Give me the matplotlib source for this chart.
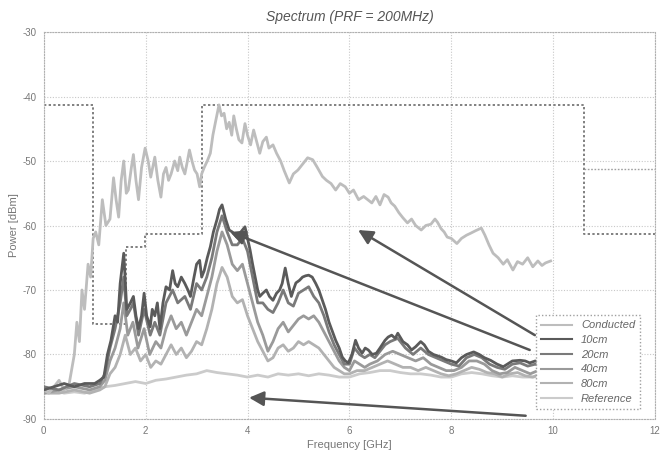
import matplotlib
matplotlib.use("Agg")
import matplotlib.pyplot as plt

plt.rcParams["font.family"] = ["Liberation Sans", "DejaVu Sans"]
plt.rcParams["axes.unicode_minus"] = False

# %%
# FCC mask (outdoor) + indoor segment above 10.6 GHz
mask_f = [0, 0.96, 1.61, 1.99, 3.1, 10.6, 12]
mask_p = [-41.3, -75.3, -63.3, -61.3, -41.3, -61.3, -61.3]
mask_hi_f = [10.6, 12]
mask_hi_p = [-51.3, -51.3]

conducted_f = [
    0.0, 0.1, 0.2, 0.3, 0.4, 0.5, 0.6, 0.65, 0.7, 0.75, 0.8, 0.87, 0.92, 0.97,
    1.02, 1.08, 1.15, 1.22, 1.3, 1.37, 1.42, 1.47, 1.52, 1.57, 1.62, 1.66, 1.72,
    1.76, 1.81, 1.86, 1.92, 1.99, 2.05, 2.1, 2.18, 2.24, 2.3, 2.35, 2.4, 2.45,
    2.5, 2.57, 2.63, 2.67, 2.72, 2.77, 2.82, 2.86, 2.91, 2.96, 3.01, 3.06, 3.1,
    3.15, 3.21, 3.27, 3.32, 3.37, 3.44, 3.49, 3.54, 3.59, 3.64, 3.69, 3.73, 3.78,
    3.83, 3.89, 3.95, 4.0, 4.06, 4.12, 4.18, 4.24, 4.3, 4.37, 4.42, 4.5, 4.57,
    4.65, 4.72, 4.82, 4.9, 4.99, 5.08, 5.18, 5.28, 5.37, 5.47, 5.55, 5.64, 5.73,
    5.82, 5.92, 6.0, 6.08, 6.18, 6.28, 6.36, 6.44, 6.52, 6.6, 6.68, 6.76, 6.82,
    6.89, 6.97, 7.05, 7.14, 7.22, 7.3, 7.41, 7.5, 7.6, 7.68, 7.73, 7.8, 7.86,
    7.92, 8.0, 8.11, 8.2, 8.3, 8.38, 8.48, 8.59, 8.66, 8.74, 8.82, 8.92, 9.02,
    9.1, 9.21, 9.3, 9.4, 9.5, 9.6, 9.7, 9.78, 9.85, 9.95,
]
conducted_p = [
    -85.5, -86, -85, -84, -85.5, -84.5, -80, -75, -78, -70, -73, -66, -68, -62,
    -61, -63, -56, -60, -59, -52.6, -56, -58.7, -53, -50, -55, -54.5, -51,
    -49, -53, -56, -51, -48, -50, -52.5, -49.4, -53, -55.6, -52, -51, -53,
    -52, -50, -51.5, -49.4, -51, -52, -50, -48.3, -50, -51.4, -52, -54, -52,
    -51, -50, -48.8, -46, -44, -41.3, -43, -42.6, -45, -44, -46, -43, -45,
    -46.7, -47.2, -44.2, -46, -47.5, -45.2, -47, -48.8, -47, -46.3, -48, -47.5, -48.8,
    -50, -51.5, -53.4, -52, -51.4, -50.5, -49.5, -49.8, -51, -52.4, -53, -53.5, -54.5,
    -53.5, -54, -55, -54.5, -56, -55.5, -56, -56.5, -55.5, -56.8, -55.2, -55.6, -56.5,
    -57, -58, -58.8, -59.6, -59, -60, -60.7, -60, -59.8, -59, -59.5, -60.5, -61,
    -61.8, -62, -62.8, -62, -61.5, -61.2, -60.8, -60.4, -61.5, -63, -64.3, -65, -66,
    -65.3, -66.9, -65.6, -66, -65, -66.4, -65.5, -66.2, -65.8, -65.5,
]

cm10_f = [
    0.0, 0.2, 0.4, 0.6, 0.8, 1.0, 1.1, 1.18, 1.25, 1.32, 1.4, 1.45, 1.5, 1.57,
    1.63, 1.7, 1.76, 1.81, 1.86, 1.92, 1.97, 2.02, 2.09, 2.13, 2.18, 2.23, 2.28,
    2.34, 2.4, 2.47, 2.53, 2.58, 2.63, 2.7, 2.77, 2.83, 2.88, 2.95, 3.0, 3.06,
    3.1, 3.15, 3.21, 3.27, 3.33, 3.4, 3.45, 3.5, 3.57, 3.64, 3.7, 3.79, 3.87,
    3.95, 4.0, 4.05, 4.1, 4.15, 4.2, 4.24, 4.3, 4.37, 4.43, 4.5, 4.57, 4.63,
    4.68, 4.74, 4.8, 4.86, 4.9, 4.95, 5.02, 5.08, 5.14, 5.2, 5.27, 5.34, 5.4,
    5.47, 5.53, 5.6, 5.67, 5.73, 5.8, 5.86, 5.92, 5.98, 6.05, 6.12, 6.18, 6.25,
    6.31, 6.37, 6.45, 6.53, 6.6, 6.7, 6.76, 6.83, 6.9, 6.95, 7.05, 7.14, 7.22,
    7.3, 7.4, 7.47, 7.55, 7.65, 7.8, 7.9, 8.0, 8.1, 8.2, 8.3, 8.44, 8.55, 8.65,
    8.77, 8.9, 9.02, 9.1, 9.2, 9.35, 9.45, 9.54, 9.65, 9.8, 10.0,
]
cm10_p = [
    -85.5, -85, -84.5, -85, -84.5, -84.5, -84, -83.5, -80, -77.8, -74, -75, -69, -64.3,
    -73, -72, -71, -74, -76, -74, -70.5, -74, -75.7, -73, -74, -72, -76,
    -72, -69.5, -70, -67, -69, -69.5, -68, -69, -70, -71, -68, -66, -65.4,
    -68, -67, -65, -63.3, -61, -59.1, -57.5, -56.8, -59, -60.7, -61, -61.8, -61,
    -60.2, -62, -63.8, -66, -68, -70, -71, -70.5, -70, -71, -71.6, -70.5, -70,
    -69, -66.6, -69, -71, -70, -68.9, -68.5, -68, -67.8, -67.7, -68, -69, -70,
    -71.6, -73, -75, -76.5, -77.8, -79, -80.4, -81, -81.3, -80, -77.8, -79, -79.8,
    -79, -79.3, -80, -79.8, -79, -77.8, -77.3, -77, -77.5, -76.7, -78, -78.5, -79.3,
    -78.8, -78, -78.5, -79.5, -80, -80.4, -80.8, -81, -81.3, -80.5, -80, -79.6, -80, -80.5,
    -80.9, -81.5, -81.9, -81.5, -81, -80.9, -81, -81.3, -81, -81.5, -81,
]

cm20_f = [
    0.0, 0.3, 0.6, 0.9, 1.1, 1.2, 1.3, 1.4, 1.5, 1.57, 1.63, 1.7, 1.76, 1.86,
    1.97, 2.09, 2.18, 2.28, 2.4, 2.53, 2.63, 2.77, 2.88, 3.0, 3.1, 3.2, 3.3,
    3.4, 3.5, 3.6, 3.7, 3.8, 3.9, 4.0, 4.1, 4.2, 4.3, 4.4, 4.5, 4.6, 4.7,
    4.8, 4.9, 5.0, 5.1, 5.2, 5.3, 5.4, 5.5, 5.6, 5.7, 5.8, 5.9, 6.0, 6.1,
    6.2, 6.3, 6.4, 6.5, 6.6, 6.7, 6.8, 6.95, 7.1, 7.25, 7.4, 7.55, 7.7, 7.85,
    8.0, 8.15, 8.3, 8.45, 8.6, 8.75, 8.9, 9.05, 9.2, 9.35, 9.5, 9.65, 9.8, 10.0,
]
cm20_p = [
    -85, -85.5, -84.5, -85, -84.5, -83, -79, -76, -72, -68, -74, -73, -72, -77,
    -73, -77, -75, -77, -72, -70, -72, -71, -73, -69, -70, -68, -65,
    -61, -58.5, -61, -63, -63, -62, -64, -68, -72, -72, -73, -73.5, -72, -70,
    -72, -72.5, -70.5, -70, -69.5, -71, -72, -74, -76.5, -78.5, -80, -81.5, -81.5, -79,
    -80, -80.5, -80, -80.5, -79.5, -78.5, -78, -77.5, -79, -80, -79, -80, -80.5, -81,
    -81.5, -81.8, -80.5, -80, -80.5, -81.5, -82, -82.3, -81.5, -81.3, -81.8, -81.5, -82, -81.5,
]

cm40_f = [
    0.0, 0.3, 0.6, 0.9, 1.1, 1.2, 1.3, 1.4, 1.5, 1.57, 1.65, 1.75, 1.85, 1.97,
    2.08, 2.2, 2.3, 2.4, 2.5, 2.6, 2.7, 2.8, 2.9, 3.0, 3.1, 3.2, 3.3,
    3.4, 3.5, 3.6, 3.7, 3.8, 3.9, 4.0, 4.1, 4.2, 4.3, 4.4, 4.5, 4.6, 4.7,
    4.8, 4.9, 5.0, 5.1, 5.2, 5.3, 5.4, 5.5, 5.6, 5.7, 5.8, 5.9, 6.0, 6.1,
    6.2, 6.3, 6.4, 6.55, 6.7, 6.85, 7.0, 7.15, 7.3, 7.45, 7.6, 7.75, 7.9, 8.05,
    8.2, 8.35, 8.5, 8.65, 8.8, 8.95, 9.1, 9.25, 9.4, 9.55, 9.7, 9.85, 10.0,
]
cm40_p = [
    -86, -85.5, -85, -85.5, -85, -84, -81, -79, -76, -72, -77, -75, -79, -76,
    -80, -78, -79, -76, -74, -76, -75, -77, -75, -73, -74, -71, -68,
    -64, -61, -63, -66, -67, -66, -69, -72, -75, -77, -79.5, -78, -76, -75,
    -76.5, -75.5, -74.5, -74, -74.5, -74, -75, -76.5, -78, -79.5, -81, -82, -82.5, -81,
    -81.5, -82, -81.5, -81, -80, -79.5, -80, -80.5, -81, -80.5, -81.5, -82, -82.5, -82.5,
    -82, -81, -81, -81.5, -82.5, -83, -82.8, -82, -82.5, -83, -82.5, -83, -82.5,
]

cm80_f = [
    0.0, 0.3, 0.6, 0.9, 1.1, 1.2, 1.3, 1.4, 1.5, 1.6, 1.7, 1.8, 1.9, 2.0,
    2.1, 2.2, 2.3, 2.4, 2.5, 2.6, 2.7, 2.8, 2.9, 3.0, 3.1, 3.2, 3.3,
    3.4, 3.5, 3.6, 3.7, 3.8, 3.9, 4.0, 4.1, 4.2, 4.3, 4.4, 4.5, 4.6, 4.7,
    4.8, 4.9, 5.0, 5.1, 5.2, 5.3, 5.4, 5.5, 5.6, 5.7, 5.8, 5.9, 6.0, 6.15,
    6.3, 6.45, 6.6, 6.75, 6.9, 7.05, 7.2, 7.35, 7.5, 7.65, 7.8, 7.95, 8.1, 8.25,
    8.4, 8.55, 8.7, 8.85, 9.0, 9.15, 9.3, 9.45, 9.6, 9.75, 9.9, 10.0,
]
cm80_p = [
    -86, -86, -85.5, -86, -85.5, -85, -83, -82, -80, -77, -80, -79, -81, -80,
    -82, -81, -81.5, -80, -78.5, -80, -79, -80.5, -79.5, -78, -78.5, -76, -73,
    -69, -66.5, -68, -71, -72, -71.5, -74, -76, -78, -79.5, -81, -80.5, -79, -78.5,
    -79.5, -79, -78, -78.5, -78, -78.5, -79, -80, -81, -82, -82.5, -83, -83, -82.5,
    -82.5, -82, -81.5, -81, -81.5, -82, -82, -82.5, -82, -82.5, -83, -83.3, -83, -82.5,
    -82, -82.3, -82.8, -83, -83.5, -83, -82.8, -83.3, -83.5, -83, -83.3, -83,
]

ref_f = [
    0.0, 0.2, 0.4, 0.6, 0.8, 1.0, 1.2, 1.4, 1.6, 1.8, 2.0, 2.2, 2.4, 2.6,
    2.8, 3.0, 3.2, 3.4, 3.6, 3.8, 4.0, 4.2, 4.4, 4.6, 4.8, 5.0, 5.2,
    5.4, 5.6, 5.8, 6.0, 6.2, 6.4, 6.6, 6.8, 7.0, 7.2, 7.4, 7.6, 7.8, 8.0,
    8.2, 8.4, 8.6, 8.8, 9.0, 9.2, 9.4, 9.6, 9.8, 10.0,
]
ref_p = [
    -86, -85.5, -86, -85.8, -86, -85.5, -85, -84.8, -84.5, -84.2, -84.5, -84, -83.8, -83.5,
    -83.2, -83, -82.5, -82.8, -83, -83.2, -83.5, -83.2, -83.5, -83, -83.2, -83, -83.3,
    -83, -83.2, -83.5, -83.5, -83, -82.8, -82.5, -82.5, -82.8, -83, -83, -83.2, -83.5, -83.5,
    -83, -82.8, -83, -83.3, -83.5, -83.3, -83.5, -83.5, -83.3, -83.5,
]

# %%
fig = plt.figure(figsize=(6.63, 4.51), dpi=100)
ax = fig.add_axes([0.066, 0.071, 0.922, 0.858])

txt = "#777777"
ax.step(mask_f, mask_p, where="post", color="#808080", lw=1.4,
        ls=(0, (1.2, 1.2)), zorder=2)
ax.plot(mask_hi_f, mask_hi_p, color="#a0a0a0", lw=1.0, ls=(0, (1.2, 1.2)), zorder=2)

series = [
    ("Conducted", conducted_f, conducted_p, "#bdbdbd", 6),
    ("10cm", cm10_f, cm10_p, "#5a5a5a", 8),
    ("20cm", cm20_f, cm20_p, "#7a7a7a", 7),
    ("40cm", cm40_f, cm40_p, "#9a9a9a", 5),
    ("80cm", cm80_f, cm80_p, "#b2b2b2", 4),
    ("Reference", ref_f, ref_p, "#cbcbcb", 3),
]
for name, f, p, c, z in series:
    ax.plot(f, p, color=c, lw=2.0, label=name, zorder=z)

# arrows pointing from the legend to the traces
arrows = [((9.64, -77.0), (6.17, -60.7)),
          ((9.54, -79.3), (3.66, -61.0)),
          ((9.46, -89.5), (4.03, -86.7))]
for tail, tip in arrows:
    ax.annotate("", xy=tip, xytext=tail,
                arrowprops=dict(arrowstyle="-|>", color="#555555", lw=1.8,
                                mutation_scale=22, shrinkA=0, shrinkB=0),
                zorder=10)

ax.set_xlim(0, 12)
ax.set_ylim(-90, -30)
ax.set_xticks(range(0, 13, 2))
ax.set_yticks(range(-90, -29, 10))
ax.grid(True, color="#c8c8c8", ls=(0, (1, 1.5)), lw=0.8)
ax.tick_params(length=0, labelsize=7, labelcolor=txt, pad=5)
for s in ax.spines.values():
    s.set_color("#b0b0b0")
    s.set_linestyle((0, (1, 1.5)))
    s.set_linewidth(0.8)

ax.set_title("Spectrum (PRF = 200MHz)", fontsize=10, style="italic",
             color="#555555", pad=8)
ax.set_xlabel("Frequency [GHz]", fontsize=8, color=txt, labelpad=3)
ax.set_ylabel("Power [dBm]", fontsize=8, color=txt, labelpad=3)

leg = ax.legend(loc="lower right", bbox_to_anchor=(0.985, 0.012),
                prop={"style": "italic", "size": 8}, handlelength=2.8,
                labelspacing=0.42, borderpad=0.45, fancybox=False, framealpha=1)
leg.get_frame().set_edgecolor("#a0a0a0")
leg.get_frame().set_linestyle((0, (1, 1.5)))
for t in leg.get_texts():
    t.set_color("#666666")
for h in leg.get_lines():
    h.set_linewidth(1.5)
leg.set_zorder(9)

fig.savefig("out.png", dpi=100)
